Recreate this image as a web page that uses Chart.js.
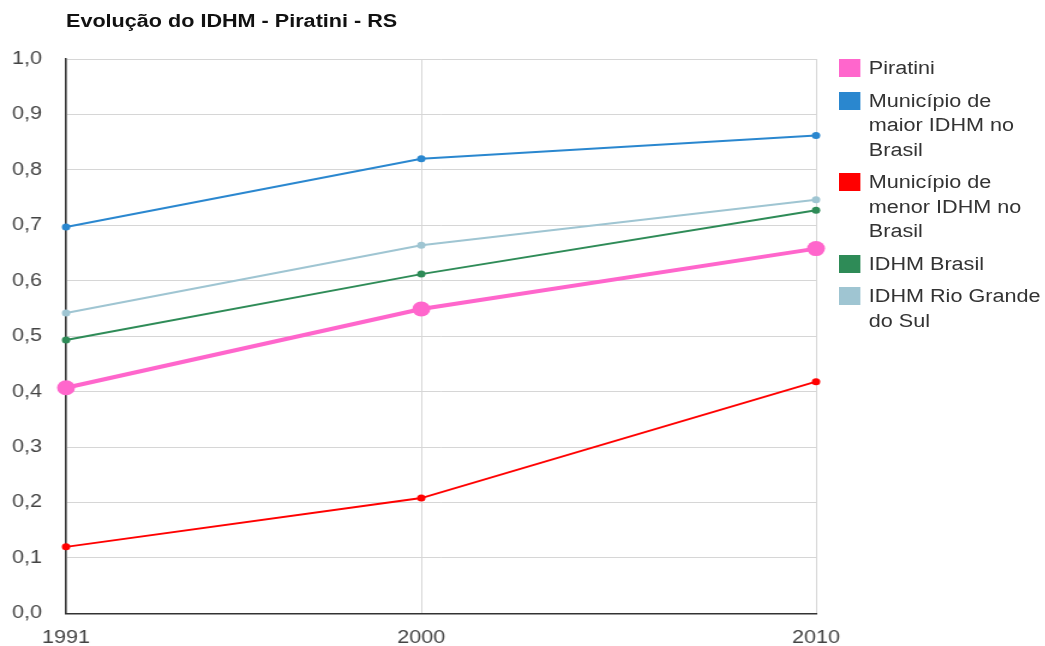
<!DOCTYPE html>
<html>
<head>
<meta charset="utf-8">
<script src="https://cdn.jsdelivr.net/npm/chart.js@4"></script>
<style>
  body { margin: 0; background: #fff; font-family: "Liberation Sans", Arial, sans-serif; overflow: hidden; }
  /* the reference is a little wider than tall, so draw narrow and stretch */
  #wrap { position: relative; width: 871px; height: 646px; transform: scaleX(1.2); transform-origin: 0 0; }
  #title { position: absolute; left: 55px; top: 11px; font-size: 18px; font-weight: bold; color: #111; }
  #legend { position: absolute; left: 699px; top: 56px; width: 172px; font-size: 18px; color: #333; }
  .item { position: relative; padding-left: 25px; width: 149px; line-height: 24.5px; margin-bottom: 8px; }
  .box { position: absolute; left: 0; top: 3px; width: 18px; height: 18px; }
</style>
</head>
<body>
<div id="wrap">
  <canvas id="chart" width="871" height="646"></canvas>
  <div id="title">Evolução do IDHM - Piratini - RS</div>
  <div id="legend"></div>
</div>
<script>
// anos e valores
const years = [1991, 2000, 2010];
const yTicks = [0, 0.1, 0.2, 0.3, 0.4, 0.5, 0.6, 0.7, 0.8, 0.9, 1.0];

const piratini = [0.407, 0.549, 0.658];
const maiorIdhm = [0.697, 0.820, 0.862];
const menorIdhm = [0.120, 0.208, 0.418];
const idhmBrasil = [0.493, 0.612, 0.727];
const idhmRS = [0.542, 0.664, 0.746];

const seriesNames = ["Piratini", "Município de maior IDHM no Brasil", "Município de menor IDHM no Brasil", "IDHM Brasil", "IDHM Rio Grande do Sul"];
const colors = ["#ff66cc", "#2a87cf", "#ff0000", "#2e8b57", "#9fc5d2"];

const toPoints = (vals) => vals.map((v, i) => ({ x: years[i], y: v }));

const datasets = [piratini, maiorIdhm, menorIdhm, idhmBrasil, idhmRS].map((vals, i) => ({
  label: seriesNames[i],
  data: toPoints(vals),
  borderColor: colors[i],
  backgroundColor: colors[i],
  borderWidth: i === 0 ? 4 : 2,
  pointRadius: i === 0 ? 7.5 : 3.5,
  pointBorderWidth: 0,
  tension: 0,
  fill: false,
  clip: false,
}));
// Piratini desenhado por cima
datasets[0].order = -1;

const tickFont = { family: "Liberation Sans", size: 18 };

new Chart(document.getElementById("chart"), {
  type: "line",
  data: { datasets },
  options: {
    responsive: false,
    animation: false,
    layout: { padding: { left: -10, right: 191, top: 59, bottom: -17 } },
    plugins: { legend: { display: false }, tooltip: { enabled: false } },
    scales: {
      x: {
        type: "linear",
        min: 1991,
        max: 2010,
        afterBuildTicks: (axis) => { axis.ticks = years.map((v) => ({ value: v })); },
        ticks: {
          color: "#444",
          font: tickFont,
          padding: 14,
          callback: (v) => String(v),
          maxRotation: 0,
        },
        grid: { color: "#d6d6d6", drawTicks: false },
        border: { color: "#333", width: 1.5 },
      },
      y: {
        min: 0,
        max: 1,
        afterBuildTicks: (axis) => { axis.ticks = yTicks.map((v) => ({ value: v })); },
        ticks: {
          color: "#444",
          font: tickFont,
          padding: 20,
          callback: (v) => v.toFixed(1).replace(".", ","),
        },
        grid: { color: "#d6d6d6", drawTicks: false },
        border: { color: "#333", width: 1.5 },
      },
    },
  },
});

const legend = document.getElementById("legend");
seriesNames.forEach((name, i) => {
  const div = document.createElement("div");
  div.className = "item";
  div.innerHTML = '<span class="box" style="background:' + colors[i] + '"></span>' + name;
  legend.appendChild(div);
});
</script>
</body>
</html>
